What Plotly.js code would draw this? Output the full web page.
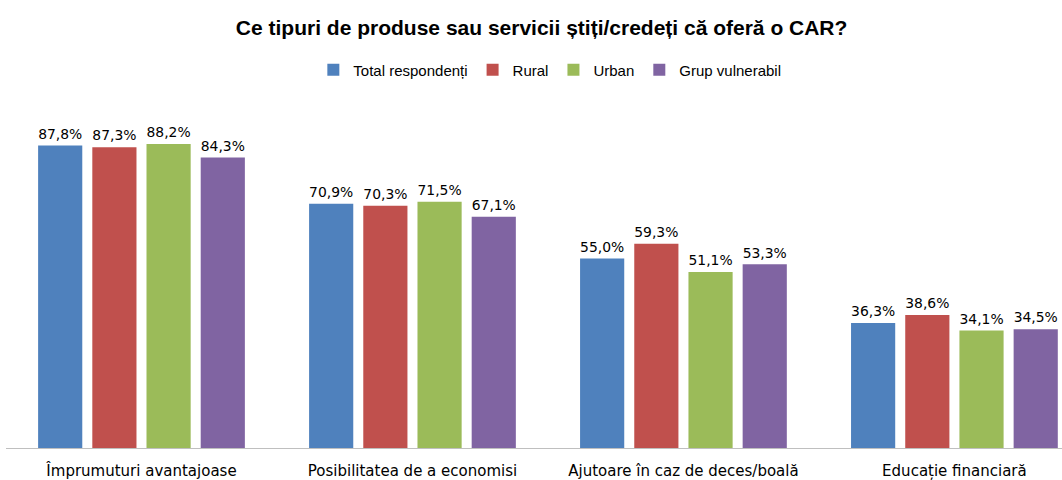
<!DOCTYPE html>
<html><head><meta charset="utf-8">
<script src="https://cdn.plot.ly/plotly-3.0.1.min.js"></script>
<style>html,body{margin:0;padding:0;background:#fff}#c{width:1062px;height:480px}</style>
</head><body><div id="c"></div>
<script>
const categories = ["Împrumuturi avantajoase", "Posibilitatea de a economisi", "Ajutoare în caz de deces/boală", "Educație financiară"];
const seriesNames = ["Total respondenți", "Rural", "Urban", "Grup vulnerabil"];
const totalRespondenti = [87.8, 70.9, 55.0, 36.3];
const rural = [87.3, 70.3, 59.3, 38.6];
const urban = [88.2, 71.5, 51.1, 34.1];
const grupVulnerabil = [84.3, 67.1, 53.3, 34.5];
const colors = ["#4F81BD", "#C0504D", "#9BBB59", "#8064A2"];
const allSeries = [totalRespondenti, rural, urban, grupVulnerabil];

const fmt = v => v.toFixed(1).replace('.', ',') + '%';
const traces = allSeries.map((vals, i) => ({
  type: 'bar', name: seriesNames[i], x: categories, y: vals,
  marker: {color: colors[i]},
  text: vals.map(fmt), textposition: 'outside', cliponaxis: false,
  textfont: {family: 'DejaVu Sans', size: 15, color: '#000'},
  hoverinfo: 'none'
}));

const layout = {
  width: 1062, height: 480,
  margin: {l: 6, r: 0, t: 100, b: 32},
  paper_bgcolor: '#fff', plot_bgcolor: '#fff',
  title: {text: '<b>Ce tipuri de produse sau servicii știți/credeți că oferă o CAR?</b>',
    font: {family: 'Liberation Sans', size: 21, color: '#000'},
    x: 0.51, xanchor: 'center', y: 1 - 28/480, yanchor: 'middle', yref: 'container'},
  showlegend: true,
  legend: {orientation: 'h', x: 0.515, xanchor: 'center', y: (448 - 70) / 348, yanchor: 'middle',
    font: {family: 'Liberation Sans', size: 15, color: '#000'}, itemclick: false},
  barmode: 'group', bargap: 0.2, bargroupgap: 0.185,
  xaxis: {type: 'category', range: [-0.5, 3.397], showline: true, linecolor: '#BFBFBF', linewidth: 1,
    ticks: '', showgrid: false, zeroline: false, ticklabelstandoff: 9,
    tickfont: {family: 'DejaVu Sans', size: 15, color: '#000'}},
  yaxis: {range: [0, 101], visible: false, showgrid: false, zeroline: false}
};
Plotly.newPlot('c', traces, layout, {staticPlot: true, displayModeBar: false});
</script></body></html>
